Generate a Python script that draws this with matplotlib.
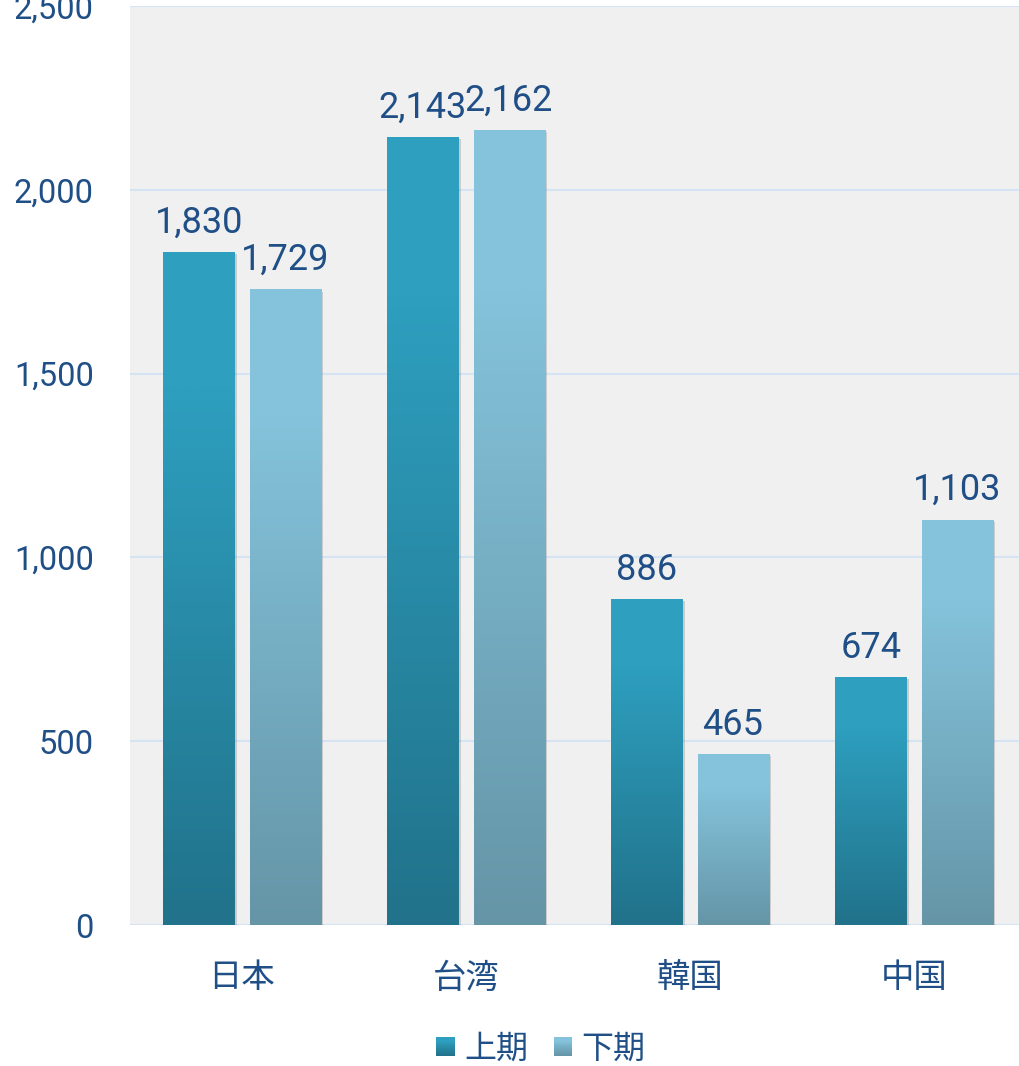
import matplotlib
matplotlib.use("Agg")
import matplotlib.pyplot as plt
import numpy as np
from matplotlib import patheffects as pe
from matplotlib.patches import Rectangle
from matplotlib.colors import to_rgb
from matplotlib.ticker import FuncFormatter
from matplotlib.legend_handler import HandlerBase

plt.rcParams['font.family'] = ['Roboto', 'Noto Sans CJK JP', 'DejaVu Sans']

categories = ['日本', '台湾', '韓国', '中国']
series_names = ['上期', '下期']
first_half = [1830, 2143, 886, 674]
second_half = [1729, 2162, 465, 1103]
yticks = [0, 500, 1000, 1500, 2000, 2500]

text_color = '#1f4f86'
grad_colors = [('#2e9fbf', '#21728a'), ('#84c3db', '#6595a7')]
bg = '#f0f0f0'
grid_color = '#d5e3f3'

W, H = 1020, 1066
fig = plt.figure(figsize=(W / 100, H / 100), dpi=100)
ax = fig.add_axes([130 / W, 141 / H, 896 / W, 919 / H])
ax.set_facecolor(bg)

x = np.arange(len(categories))
width = 0.317
offset = 0.192


def grad_fn(top, bottom, t):
    f = np.clip((np.asarray(t) - 0.2) / 0.8, 0, 1)
    a = np.array(to_rgb(top))
    b = np.array(to_rgb(bottom))
    return a[None, :] * (1 - f[..., None]) + b[None, :] * f[..., None]


def gradient_img(top, bottom, n=256):
    return grad_fn(top, bottom, np.linspace(0, 1, n))[:, None, :]


for si, vals in enumerate([first_half, second_half]):
    xs = x + (-offset if si == 0 else offset)
    bars = ax.bar(xs, vals, width=width, color=grad_colors[si][1], zorder=3,
                  path_effects=[pe.SimplePatchShadow(offset=(2, -1.5), shadow_rgbFace='k', alpha=0.15), pe.Normal()])
    img = gradient_img(*grad_colors[si])
    for b, v in zip(bars, vals):
        x0 = b.get_x()
        im = ax.imshow(img, extent=[x0, x0 + b.get_width(), 0, v], origin='upper',
                       aspect='auto', zorder=4, interpolation='bilinear')
        im.set_clip_path(b)
        ax.annotate(f'{v:,}', (b.get_x() + b.get_width() / 2, v), xytext=(0, 14),
                    textcoords='offset points', ha='center', va='baseline',
                    fontsize=26, color=text_color, zorder=5)

ax.set_xlim(-0.5, len(categories) - 0.5)
ax.set_ylim(0, 2500)
ax.set_yticks(yticks)
ax.yaxis.set_major_formatter(FuncFormatter(lambda v, p: f'{int(v):,}'))
ax.set_xticks(x)
ax.set_xticklabels(categories)
ax.tick_params(axis='y', length=0, pad=26, labelsize=23.5, labelcolor=text_color)
ax.tick_params(axis='x', length=0, pad=27, labelsize=24, labelcolor=text_color)
ax.grid(axis='y', color=grid_color, linewidth=1.5, zorder=1)
ax.set_axisbelow(True)
for s in ax.spines.values():
    s.set_visible(False)


class GradHandler(HandlerBase):
    def __init__(self, top, bottom):
        super().__init__()
        self.top, self.bottom = top, bottom

    def create_artists(self, legend, orig_handle, xdescent, ydescent, width, height, fontsize, trans):
        n = 20
        cols = grad_fn(self.top, self.bottom, np.linspace(0, 1, n))
        arts = []
        for i in range(n):
            r = Rectangle((-xdescent, -ydescent + height * (1 - (i + 1) / n)), width, height / n + 0.05,
                          facecolor=cols[i], edgecolor='none', transform=trans)
            arts.append(r)
        return arts


handles = [Rectangle((0, 0), 1, 1), Rectangle((0, 0), 1, 1)]
handler_map = {handles[0]: GradHandler(*grad_colors[0]), handles[1]: GradHandler(*grad_colors[1])}
leg = fig.legend(handles, series_names, loc='center', bbox_to_anchor=(541 / W, 1 - 1049 / H),
                 ncol=2, frameon=False, fontsize=23, handlelength=0.57, handleheight=0.57,
                 handletextpad=0.3, columnspacing=0.8, labelcolor=text_color, handler_map=handler_map)

fig.savefig('out.png', dpi=100)
